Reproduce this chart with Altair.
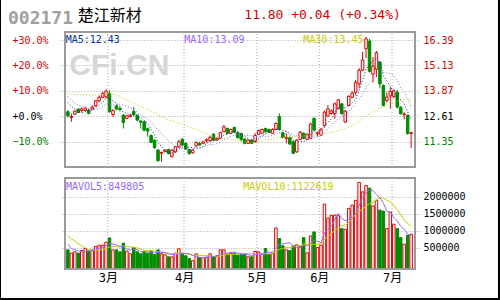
import json
import altair as alt
import pandas as pd

# ---------------- data ----------------
opens = [12.84, 12.55, 12.72, 12.97, 12.90, 12.90, 12.92, 12.97, 13.13, 13.38,
         13.55, 13.58, 13.75, 12.70, 13.13, 13.00, 12.67, 12.51, 12.60, 12.85,
         12.67, 12.38, 12.34, 12.00, 11.66, 11.43, 10.94, 10.78, 10.86, 10.97,
         10.61, 10.85, 11.10, 11.47, 11.27, 10.97, 10.81, 11.15, 11.27, 11.27,
         11.40, 11.40, 11.72, 11.43, 11.52, 11.85, 12.01, 11.77, 12.06, 11.80,
         11.76, 11.48, 11.27, 11.43, 11.36, 11.72, 11.77, 12.01, 11.96, 11.77,
         11.96, 12.60, 11.80, 11.51, 11.55, 11.35, 10.85, 11.47, 11.77, 11.47,
         11.52, 12.51, 11.75, 11.68, 12.16, 12.62, 12.75, 12.75, 12.99, 13.23,
         12.33, 13.15, 13.56, 13.80, 14.22, 14.90, 15.96, 16.34, 14.70, 14.94,
         15.30, 14.14, 13.40, 13.62, 13.60, 13.81, 13.07, 12.70, 12.66, 11.76]
highs = [12.92, 12.74, 12.90, 13.00, 13.04, 13.08, 12.97, 13.15, 13.42, 13.64,
         13.82, 13.95, 13.91, 12.97, 13.20, 13.10, 12.72, 12.68, 12.74, 13.08,
         12.71, 12.43, 12.40, 12.05, 11.72, 11.47, 10.98, 10.86, 10.97, 11.00,
         10.98, 11.15, 11.45, 11.55, 11.32, 11.00, 11.00, 11.36, 11.35, 11.40,
         11.52, 11.65, 11.78, 11.56, 11.85, 12.18, 12.05, 12.00, 12.10, 11.85,
         11.80, 11.52, 11.47, 11.48, 11.78, 11.96, 12.00, 12.05, 12.00, 12.02,
         12.30, 12.76, 11.85, 11.76, 11.60, 11.40, 11.48, 11.88, 11.82, 11.77,
         12.30, 12.56, 11.85, 12.02, 12.90, 13.17, 12.95, 13.30, 13.47, 13.28,
         12.92, 13.65, 13.85, 14.42, 15.00, 15.80, 16.55, 16.45, 15.55, 15.85,
         15.35, 14.20, 13.80, 14.06, 13.95, 13.93, 13.10, 12.82, 12.70, 11.85]
lows = [12.56, 12.34, 12.68, 12.78, 12.81, 12.86, 12.70, 12.92, 13.10, 13.30,
        13.50, 13.50, 12.80, 12.59, 12.92, 12.85, 12.01, 12.46, 12.56, 12.62,
        12.37, 12.01, 11.85, 11.60, 11.28, 11.00, 10.36, 10.36, 10.83, 10.72,
        10.58, 10.80, 11.05, 11.15, 10.95, 10.70, 10.76, 11.10, 11.15, 11.23,
        11.30, 11.36, 11.40, 11.40, 11.48, 11.82, 11.72, 11.73, 11.78, 11.50,
        11.40, 11.22, 11.24, 11.24, 11.30, 11.68, 11.74, 11.80, 11.78, 11.75,
        11.93, 11.90, 11.52, 11.27, 11.20, 10.74, 10.80, 11.43, 11.48, 11.43,
        11.48, 11.88, 11.60, 11.64, 12.05, 12.58, 12.70, 12.49, 12.95, 12.70,
        12.28, 13.10, 13.50, 13.65, 14.00, 14.85, 15.50, 14.78, 14.30, 14.55,
        14.00, 13.10, 13.30, 12.99, 13.50, 13.00, 12.70, 12.46, 11.70, 11.05]
closes = [12.64, 12.60, 12.87, 12.80, 12.98, 13.02, 12.76, 13.07, 13.38, 13.55,
          13.75, 13.86, 12.84, 12.90, 12.97, 12.95, 12.31, 12.64, 12.66, 12.70,
          12.42, 12.32, 11.93, 11.88, 11.32, 11.07, 10.41, 10.82, 10.94, 10.77,
          10.94, 11.10, 11.35, 11.19, 10.99, 10.77, 10.94, 11.32, 11.19, 11.35,
          11.45, 11.57, 11.43, 11.52, 11.80, 12.09, 11.77, 11.96, 11.82, 11.55,
          11.45, 11.27, 11.43, 11.27, 11.66, 11.90, 11.96, 11.85, 11.82, 11.96,
          12.26, 11.96, 11.57, 11.58, 11.24, 10.78, 11.43, 11.82, 11.52, 11.72,
          12.23, 11.93, 11.79, 11.98, 12.82, 12.98, 12.88, 13.23, 13.43, 12.74,
          12.87, 13.60, 13.76, 14.30, 14.89, 15.40, 16.45, 14.84, 15.10, 15.76,
          14.22, 13.15, 13.57, 13.85, 13.88, 13.07, 12.74, 12.73, 11.76, 11.80]
volumes = [432000, 335000, 374000, 335000, 412000, 471000, 403000, 424000, 530000, 570000,
           570000, 659000, 785000, 432000, 432000, 374000, 629000, 394000, 315000, 500000,
           374000, 315000, 374000, 335000, 403000, 294000, 432000, 315000, 285000, 226000,
           226000, 335000, 462000, 335000, 256000, 176000, 109000, 315000, 206000, 206000,
           216000, 315000, 236000, 256000, 432000, 432000, 305000, 335000, 335000, 275000,
           294000, 305000, 226000, 226000, 383000, 374000, 305000, 471000, 294000, 325000,
           1080000, 765000, 550000, 432000, 412000, 550000, 580000, 530000, 794000, 344000,
           844000, 962000, 500000, 570000, 1785000, 1374000, 1453000, 1460000, 1460000, 1060000,
           1040000, 1660000, 1756000, 1900000, 2430000, 2150000, 2340000, 2260000, 1730000, 1900000,
           1610000, 1580000, 1060000, 1550000, 1190000, 1060000, 794000, 600000, 865000, 894000]
# sessions before the visible window (estimated from where the MA lines start at the left edge)
prior_closes = [12.9, 13.0, 13.2, 13.1, 13.0, 13.2, 13.3, 13.1, 13.0, 13.2, 13.1, 13.0,
                13.6, 14.2, 14.8, 15.2, 15.3, 15.1, 14.9, 15.3,
                14.6, 14.2, 13.9, 13.5, 13.3,
                13.6, 13.5, 13.4, 13.36]
prior_volumes = [1200000, 1000000, 1150000, 1050000, 1040000, 1000000, 520000, 500000, 540000]

month_labels = ["3月", "4月", "5月", "6月", "7月"]
month_first_session = [12, 34, 55, 73, 94]
price_ticks = [11.35, 12.61, 13.87, 15.13, 16.39]
base_price = 12.61
vol_ticks = [500000, 1000000, 1500000, 2000000]

header_code = "002171"
header_name = "楚江新材"
header_quote = "11.80 +0.04 (+0.34%)"
ma_texts = ["MA5:12.43", "MA10:13.09", "MA30:13.45"]
vol_texts = ["MAVOL5:849805", "MAVOL10:1122619"]
watermark = "CFi.CN"

# ---------------- styles ----------------
RED = "#e00000"
GREEN = "#008c00"
TXT_RED = "#dd0000"
TXT_GREEN = "#008000"
MA5_C = "#003399"
MA10_C = "#9966ff"
MA30_C = "#cccc00"
GRID = "#a8a8a8"
BOX = "#9a9a9a"
MONO = "DejaVu Sans Mono"
CJK = "Noto Sans CJK SC"
BAR_SIZE = 2.5

W, H = 360, 237
X_DOM = [-0.84, 100.12]
P_DOM = [10.10, 16.79]
V_DOM = [-135000, 2560000]

xs = alt.Scale(domain=X_DOM, nice=False, zero=False)
ps = alt.Scale(domain=P_DOM, range=[135, 0], nice=False, zero=False)
vs = alt.Scale(domain=V_DOM, range=[237, 146], nice=False, zero=False)

# ---------------- tables ----------------
n = len(closes)
df = pd.DataFrame({"i": list(range(n)), "open": opens, "high": highs, "low": lows,
                   "close": closes, "vol": volumes})
df["dir"] = ["up" if c >= o else "down" for o, c in zip(opens, closes)]
hist = pd.DataFrame({"i": list(range(-len(prior_closes), n)), "close": prior_closes + closes})
vhist = pd.DataFrame({"i": list(range(-len(prior_volumes), n)), "vol": prior_volumes + volumes})
month_pos = [m - 0.5 for m in month_first_session]
months = pd.DataFrame({"pos": month_pos, "label": month_labels})
one = pd.DataFrame({"k": [0]})

dir_stroke = alt.Scale(domain=["up", "down"], range=[RED, GREEN])
dir_fill = alt.Scale(domain=["up", "down"], range=["#ffffff", GREEN])

month_expr = "%s[indexof(%s, datum.value)]" % (json.dumps(month_labels, ensure_ascii=False),
                                               json.dumps(month_pos))
x_axis = alt.Axis(values=month_pos, labelExpr=month_expr, grid=False, domain=False,
                  ticks=False, tickSize=0, labelPadding=3, labelFont=MONO + ", " + CJK,
                  labelFontSize=12, labelColor="black", title=None, labelOverlap=False,
                  labelFlush=False)

label_color = {"condition": [{"test": "datum.value > %f" % (base_price + 0.005), "value": TXT_RED},
                             {"test": "datum.value < %f" % (base_price - 0.005), "value": TXT_GREEN}],
               "value": "black"}
pct_expr = ("(datum.value >= %s ? '+' : '') + format((datum.value / %s - 1) * 100, '.1f') + '%%'"
            % (base_price, base_price))
left_axis = alt.Axis(orient="left", values=price_ticks, labelExpr=pct_expr, grid=True,
                     gridDash=[1, 2], gridColor=GRID, domain=False, ticks=False, tickSize=0,
                     labelAlign="left", labelPadding=48, labelFont=MONO, labelFontSize=10,
                     labelColor=label_color, title=None, labelOverlap=False)
right_axis = alt.Axis(orient="right", values=price_ticks, format=".2f", grid=False,
                      domain=False, ticks=False, tickSize=0, labelPadding=3, labelFont=MONO,
                      labelFontSize=10, labelColor=label_color, title=None, labelOverlap=False)
vol_axis = alt.Axis(orient="right", values=vol_ticks, format="d", grid=True, gridDash=[1, 2],
                    gridColor=GRID, domain=False, ticks=False, tickSize=0, labelPadding=3,
                    labelFont=MONO, labelFontSize=10, labelColor="black", title=None,
                    labelOverlap=False)

X = alt.X("i:Q", scale=xs, axis=x_axis)


def text_layer(txt, x, y, color, size, font=MONO, weight="normal"):
    return alt.Chart(pd.DataFrame({"t": [txt]})).mark_text(
        align="left", baseline="alphabetic", font=font, fontSize=size,
        fontWeight=weight, color=color).encode(text="t:N", x=alt.value(x), y=alt.value(y))


# vertical month grid lines in both panels
vgrid_p = alt.Chart(months).mark_rule(color=GRID, strokeDash=[1, 2], strokeWidth=1).encode(
    x=alt.X("pos:Q", scale=xs, axis=x_axis),
    y=alt.YDatum(P_DOM[0], type="quantitative", scale=ps, axis=None),
    y2=alt.Y2Datum(P_DOM[1]))
vgrid_v = alt.Chart(months).mark_rule(color=GRID, strokeDash=[1, 2], strokeWidth=1).encode(
    x=alt.X("pos:Q", scale=xs, axis=x_axis),
    y=alt.YDatum(V_DOM[0], type="quantitative", scale=vs, axis=None),
    y2=alt.Y2Datum(V_DOM[1]))

wm = text_layer(watermark, 9.3, 43, "#d6d6d6", 30, font="Liberation Sans", weight="bold")

wicks = alt.Chart(df).mark_rule(strokeWidth=1).encode(
    x=X, y=alt.Y("low:Q", scale=ps, axis=left_axis), y2="high:Q",
    stroke=alt.Stroke("dir:N", scale=dir_stroke, legend=None))
bodies = alt.Chart(df).mark_bar(size=BAR_SIZE, strokeWidth=1).encode(
    x=X, y=alt.Y("open:Q", scale=ps, axis=None), y2="close:Q",
    fill=alt.Fill("dir:N", scale=dir_fill, legend=None),
    stroke=alt.Stroke("dir:N", scale=dir_stroke, legend=None))


def ma_line(data, field, span, color, scale, axis, dash):
    mk = dict(color=color, strokeWidth=1)
    if dash:
        mk["strokeDash"] = [1, 2]
    return alt.Chart(data).transform_window(
        ma="mean(%s)" % field, frame=[-(span - 1), 0], sort=[alt.SortField("i")]
    ).transform_filter("datum.i >= 0").mark_line(**mk).encode(
        x=X, y=alt.Y("ma:Q", scale=scale, axis=axis))


ma30 = ma_line(hist, "close", 30, MA30_C, ps, right_axis, True)
ma10 = ma_line(hist, "close", 10, MA10_C, ps, None, True)
ma5 = ma_line(hist, "close", 5, MA5_C, ps, None, True)

volbars = alt.Chart(df).mark_bar(size=BAR_SIZE, strokeWidth=1).encode(
    x=X, y=alt.Y("vol:Q", scale=vs, axis=vol_axis), y2=alt.datum(V_DOM[0]),
    fill=alt.Fill("dir:N", scale=dir_fill, legend=None),
    stroke=alt.Stroke("dir:N", scale=dir_stroke, legend=None))
vma10 = ma_line(vhist, "vol", 10, MA30_C, vs, None, False)
vma5 = ma_line(vhist, "vol", 5, MA10_C, vs, None, False)

box_p = alt.Chart(one).mark_rect(filled=False, color=BOX, strokeWidth=2).encode(
    x=alt.XDatum(X_DOM[0], type="quantitative", scale=xs, axis=x_axis),
    x2=alt.X2Datum(X_DOM[1]),
    y=alt.YDatum(P_DOM[0], type="quantitative", scale=ps, axis=None),
    y2=alt.Y2Datum(P_DOM[1]))
box_v = alt.Chart(one).mark_rect(filled=False, color=BOX, strokeWidth=2).encode(
    x=alt.XDatum(X_DOM[0], type="quantitative", scale=xs, axis=x_axis),
    x2=alt.X2Datum(X_DOM[1]),
    y=alt.YDatum(V_DOM[0], type="quantitative", scale=vs, axis=None),
    y2=alt.Y2Datum(V_DOM[1]))

texts = [
    text_layer(header_code, -52, -8, "#a0a0a0", 18, weight="bold"),
    text_layer(header_name, 17.7, -11, "black", 16, font=CJK),
    text_layer(header_quote, 184.3, -12.7, TXT_RED, 13),
    text_layer(ma_texts[0], 5.7, 10.7, MA5_C, 10),
    text_layer(ma_texts[1], 124.3, 10.7, MA10_C, 10),
    text_layer(ma_texts[2], 243.3, 10.7, MA30_C, 10),
    text_layer(vol_texts[0], 6, 158, MA10_C, 10),
    text_layer(vol_texts[1], 183.3, 158, MA30_C, 10),
]

frame_left = alt.Chart(one).mark_rule(color="black", strokeWidth=1).encode(
    x=alt.value(-59.5), y=alt.value(-32), y2=alt.value(268))
frame_right = alt.Chart(one).mark_rule(color="black", strokeWidth=2).encode(
    x=alt.value(439), y=alt.value(-32), y2=alt.value(268))
frame_bottom = alt.Chart(one).mark_rule(color="black", strokeWidth=2).encode(
    x=alt.value(-60), x2=alt.value(440), y=alt.value(267))

chart = alt.layer(
    vgrid_p, vgrid_v, wm, wicks, bodies, ma30, ma10, ma5, volbars, vma10, vma5,
    box_p, box_v, *texts, frame_left, frame_right, frame_bottom
).resolve_scale(y="independent").properties(
    width=W, height=H,
    autosize=alt.AutoSizeParams(type="none"),
    padding={"left": 60, "top": 32, "right": 80, "bottom": 31},
    background="white",
).configure_view(stroke=None)

chart.save("out.html", embed_options={"renderer": "svg", "actions": False})
